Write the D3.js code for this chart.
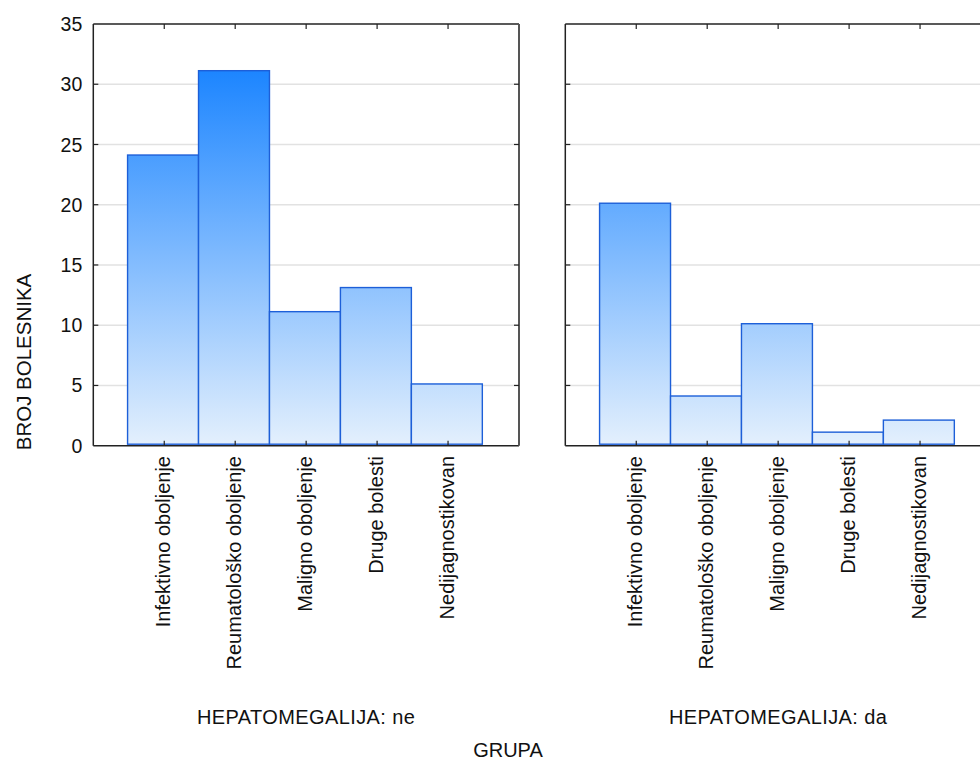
<!DOCTYPE html>
<html>
<head>
<meta charset="utf-8">
<script src="https://cdn.jsdelivr.net/npm/d3@7"></script>
<style>
  html, body { margin: 0; padding: 0; background: #fff; }
  svg { display: block; font-family: "Liberation Sans", Arial, sans-serif; }
</style>
</head>
<body>
<svg id="chart" width="980" height="762"></svg>
<script>
// ---- data ----
const categories = ["Infektivno oboljenje", "Reumatološko oboljenje", "Maligno oboljenje", "Druge bolesti", "Nedijagnostikovan"];
const valuesNe = [24, 31, 11, 13, 5];
const valuesDa = [20, 4, 10, 1, 2];
const panelTitles = ["HEPATOMEGALIJA: ne", "HEPATOMEGALIJA: da"];
const yTicks = [0, 5, 10, 15, 20, 25, 30, 35];
const yLabel = "BROJ BOLESNIKA";
const xLabel = "GRUPA";

// ---- layout ----
const svg = d3.select("#chart");
const plotTop = 24, plotBottom = 445.7;
const panelW = 425.7;
const panelX = [93.3, 565.3];
const panels = [valuesNe, valuesDa];

const y = d3.scaleLinear().domain([0, 35]).range([plotBottom, plotTop]);
const x = d3.scaleLinear().domain([0, categories.length + 1]).range([0, panelW]);

const defs = svg.append("defs");
const grad = defs.append("linearGradient")
  .attr("id", "barGrad")
  .attr("gradientUnits", "userSpaceOnUse")
  .attr("x1", 0).attr("x2", 0)
  .attr("y1", y(31.5)).attr("y2", y(0));
grad.append("stop").attr("offset", 0).attr("stop-color", "#1a84ff");
grad.append("stop").attr("offset", 1).attr("stop-color", "#e4f0fd");

panels.forEach((vals, p) => {
  const g = svg.append("g").attr("transform", `translate(${panelX[p]},0)`);

  // gridlines
  g.selectAll("line.grid").data(yTicks.filter(t => t > 0 && t < 35)).enter()
    .append("line").attr("class", "grid")
    .attr("x1", 0).attr("x2", panelW)
    .attr("y1", d => y(d)).attr("y2", d => y(d))
    .attr("stroke", "#e2e2e2").attr("stroke-width", 1.5);

  // bars
  g.selectAll("rect.bar").data(vals).enter()
    .append("rect").attr("class", "bar")
    .attr("x", (d, i) => x(i + 0.5) - 1.2)
    .attr("width", x(1) - x(0))
    .attr("y", d => y(d) - 1.5)
    .attr("height", d => y(0) - y(d))
    .attr("fill", "url(#barGrad)")
    .attr("stroke", "#1d5fd8")
    .attr("stroke-width", 1.4);

  // frame
  const frame = g.append("g").attr("stroke", "#222").attr("stroke-width", 1.5).attr("fill", "none");
  frame.append("line").attr("x1", 0).attr("x2", panelW).attr("y1", plotTop).attr("y2", plotTop);
  frame.append("line").attr("x1", 0).attr("x2", panelW).attr("y1", plotBottom).attr("y2", plotBottom);
  frame.append("line").attr("x1", 0).attr("x2", 0).attr("y1", plotTop).attr("y2", plotBottom);
  frame.append("line").attr("x1", panelW).attr("x2", panelW).attr("y1", plotTop).attr("y2", plotBottom).attr("stroke", "#555").attr("stroke-width", 2);

  // y ticks (inward) on both sides
  const tickG = g.append("g").attr("stroke", "#222").attr("stroke-width", 1.2);
  yTicks.filter(t => t > 0 && t < 35).forEach(t => {
    tickG.append("line").attr("x1", 0).attr("x2", 5).attr("y1", y(t)).attr("y2", y(t));
    tickG.append("line").attr("x1", panelW - 5).attr("x2", panelW).attr("y1", y(t)).attr("y2", y(t));
  });
  // x ticks (inward) top and bottom
  categories.forEach((c, i) => {
    tickG.append("line").attr("x1", x(i + 1)).attr("x2", x(i + 1)).attr("y1", plotTop).attr("y2", plotTop + 5);
    tickG.append("line").attr("x1", x(i + 1)).attr("x2", x(i + 1)).attr("y1", plotBottom - 5).attr("y2", plotBottom);
  });

  // category labels
  g.selectAll("text.cat").data(categories).enter()
    .append("text").attr("class", "cat")
    .attr("transform", (d, i) => `translate(${x(i + 1)},456) rotate(-90)`)
    .attr("text-anchor", "end")
    .attr("dy", "0.3em")
    .attr("font-size", 20)
    .attr("fill", "#111")
    .text(d => d);

  // y tick labels (left panel only)
  if (p === 0) {
    g.selectAll("text.ytick").data(yTicks).enter()
      .append("text").attr("class", "ytick")
      .attr("x", -11).attr("y", d => y(d))
      .attr("dy", "0.36em")
      .attr("text-anchor", "end")
      .attr("font-size", 19.5)
      .attr("fill", "#111")
      .text(d => d);
  }

  // panel title
  g.append("text")
    .attr("x", x(3)).attr("y", 724)
    .attr("text-anchor", "middle")
    .attr("font-size", 20)
    .attr("letter-spacing", "0.4px")
    .attr("fill", "#111")
    .text(panelTitles[p]);
});

// axis titles
svg.append("text")
  .attr("transform", "translate(31,362) rotate(-90)")
  .attr("text-anchor", "middle")
  .attr("font-size", 20.5)
  .attr("fill", "#111")
  .text(yLabel);

svg.append("text")
  .attr("x", 508).attr("y", 757)
  .attr("text-anchor", "middle")
  .attr("font-size", 20)
  .attr("fill", "#111")
  .text(xLabel);
</script>
</body>
</html>
